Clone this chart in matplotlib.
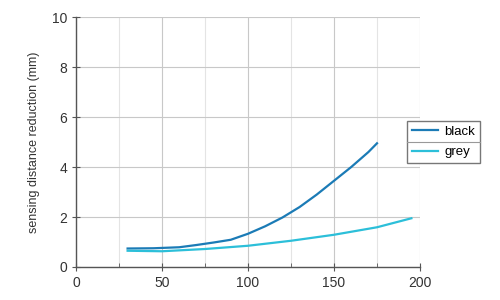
import numpy as np
import matplotlib
matplotlib.use('Agg')
import matplotlib.pyplot as plt
from matplotlib.lines import Line2D

# Data
black_x = [30, 45, 60, 70, 80, 90, 100, 110, 120, 130, 140, 150, 160, 170, 175]
black_y = [0.74, 0.75, 0.79, 0.88, 0.98, 1.09, 1.33, 1.63, 1.98, 2.4, 2.9, 3.45, 4.0, 4.6, 4.95]
grey_x = [30, 50, 75, 100, 125, 150, 175, 195]
grey_y = [0.65, 0.63, 0.72, 0.85, 1.05, 1.29, 1.59, 1.95]
x_ticks = [0, 50, 100, 150, 200]
y_ticks = [0, 2, 4, 6, 8, 10]

plt.rcParams['font.family'] = ['Liberation Sans', 'DejaVu Sans']

fig = plt.figure(figsize=(5, 3), dpi=100)
ax = fig.add_axes([0.152, 0.11, 0.688, 0.833])

ax.plot(black_x, black_y, color='#1b7bb6', lw=1.6, label='black')
ax.plot(grey_x, grey_y, color='#2cbfd9', lw=1.6, label='grey')

ax.set_xlim(0, 200)
ax.set_ylim(0, 10)
ax.set_xticks(x_ticks)
ax.set_yticks(y_ticks)
ax.set_xticks([25, 75, 125, 175], minor=True)
ax.grid(True, which='major', color='#c8c8c8', lw=0.8)
ax.grid(True, which='minor', axis='x', color='#e4e4e4', lw=0.8)
ax.set_axisbelow(True)

for s in ['top', 'right']:
    ax.spines[s].set_visible(False)
for s in ['left', 'bottom']:
    ax.spines[s].set_color('#555555')
    ax.spines[s].set_linewidth(1.0)
ax.tick_params(which='major', direction='inout', length=6, color='#555555',
               labelsize=10, labelcolor='#333333')
ax.tick_params(which='minor', direction='in', length=3, color='#555555')
ax.set_ylabel('sensing distance reduction (mm)', fontsize=9, color='#333333',
              labelpad=8)

leg = ax.legend(loc='center left', bbox_to_anchor=(0.962, 0.5), fontsize=9.5,
                frameon=True, fancybox=False, edgecolor='#555555',
                handlelength=2.0, borderpad=0.35, labelspacing=0.6,
                handletextpad=0.5, borderaxespad=0)
leg.get_frame().set_linewidth(1.0)

# separator between legend entries
fig.canvas.draw()
bb = leg.get_window_extent().transformed(fig.transFigure.inverted())
ymid = (bb.y0 + bb.y1) / 2
fig.add_artist(Line2D([bb.x0, bb.x1], [ymid, ymid], color='#999999', lw=0.8,
                      transform=fig.transFigure))

fig.savefig('out.png', dpi=100, facecolor='white')
